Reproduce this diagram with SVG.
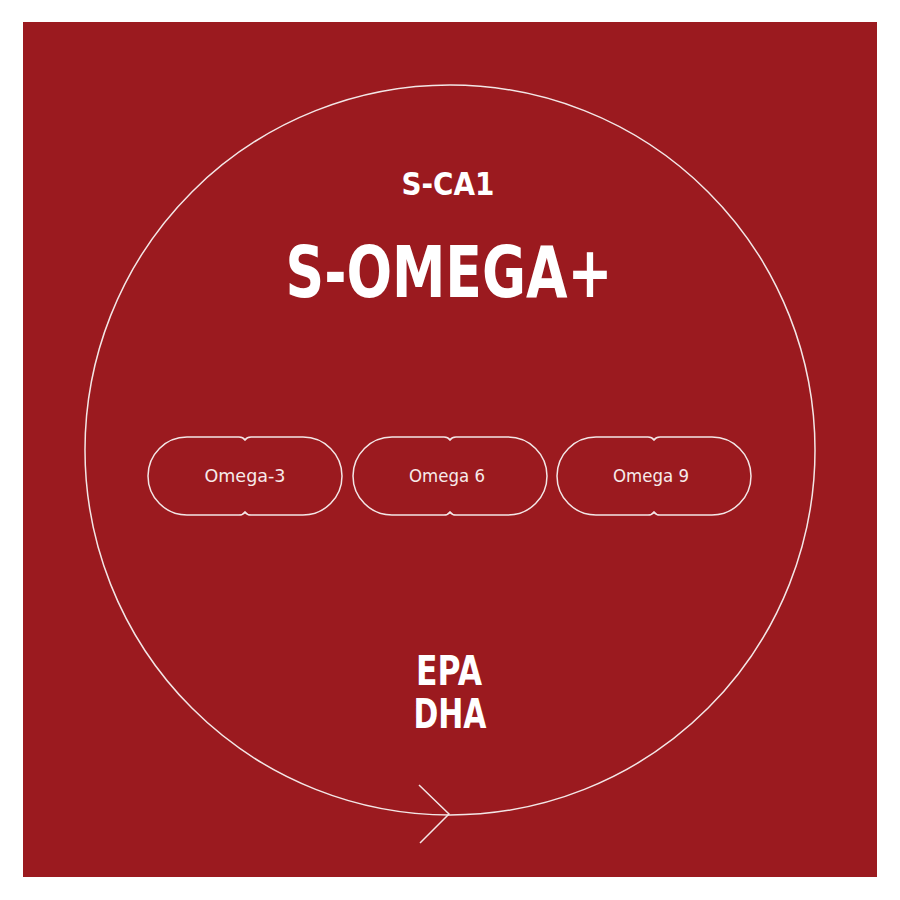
<svg xmlns="http://www.w3.org/2000/svg" width="900" height="900" viewBox="0 0 900 900">
<style>
.ln{fill:none;stroke:#f3e6e6;stroke-width:1.5}
.t{fill:#ffffff;font-family:"DejaVu Sans","Liberation Sans",sans-serif;text-anchor:middle}
.b{font-weight:bold}
.s{font-size:18px;fill:#f7eaea}
</style>
<rect x="0" y="0" width="900" height="900" fill="#ffffff"/>
<rect x="23" y="22" width="854" height="855" fill="#9b1a1f"/>
<g id="connectors">
<circle class="ln" cx="450" cy="450" r="365"/>
<path class="ln" d="M419 785 L449 814 L420 843"/>
</g>
<g id="title">
<text class="t b" x="448" y="195" font-size="32" textLength="93" lengthAdjust="spacingAndGlyphs">S-CA1</text>
<text class="t b" x="449" y="297" font-size="72" textLength="327" lengthAdjust="spacingAndGlyphs">S-OMEGA+</text>
</g>
<g id="omega3">
<path class="ln" d="M245 440 Q243 437 239 437 H187 A39 39 0 0 0 187 515 H239 Q243 515 245 512 Q247 515 251 515 H303 A39 39 0 0 0 303 437 H251 Q247 437 245 440 Z"/>
<text class="t s" x="245" y="482" textLength="81" lengthAdjust="spacingAndGlyphs">Omega-3</text>
</g>
<g id="omega6">
<path class="ln" d="M450 440 Q448 437 444 437 H392 A39 39 0 0 0 392 515 H444 Q448 515 450 512 Q452 515 456 515 H508 A39 39 0 0 0 508 437 H456 Q452 437 450 440 Z"/>
<text class="t s" x="447" y="482" textLength="76" lengthAdjust="spacingAndGlyphs">Omega 6</text>
</g>
<g id="omega9">
<path class="ln" d="M654 440 Q652 437 648 437 H596 A39 39 0 0 0 596 515 H648 Q652 515 654 512 Q656 515 660 515 H712 A39 39 0 0 0 712 437 H660 Q656 437 654 440 Z"/>
<text class="t s" x="651" y="482" textLength="76" lengthAdjust="spacingAndGlyphs">Omega 9</text>
</g>
<g id="epadha">
<text class="t b" x="449" y="685" font-size="40" textLength="66" lengthAdjust="spacingAndGlyphs">EPA</text>
<text class="t b" x="450" y="728" font-size="40" textLength="73" lengthAdjust="spacingAndGlyphs">DHA</text>
</g>
</svg>
